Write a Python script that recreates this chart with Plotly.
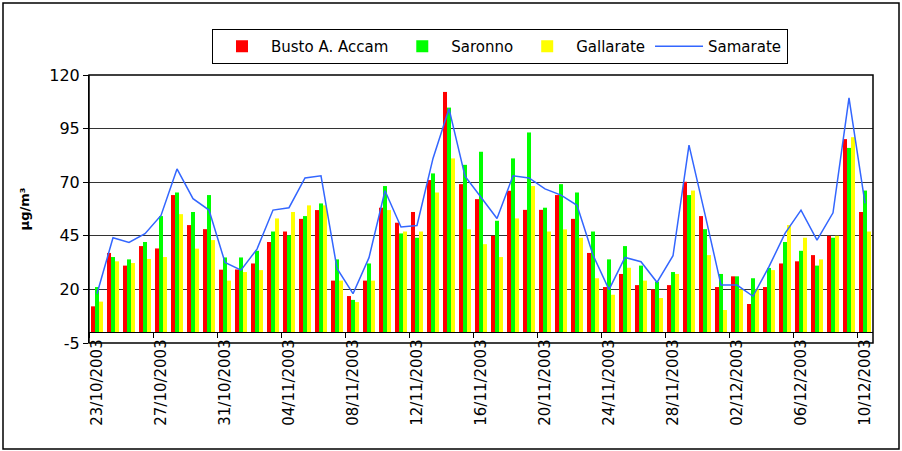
import pandas as pd
import plotly.graph_objects as go

# 23/10/2003 -> 10/12/2003, una categoria al giorno
giorni = [d.strftime("%d/%m/%Y") for d in pd.date_range("2003-10-23", "2003-12-10")]

busto = [12.1, 37.0, 31.1, 40.2, 39.1, 64.0, 50.0, 48.1, 29.2, 29.3,
         32.1, 42.1, 47.0, 52.9, 57.0, 24.1, 16.9, 24.1, 58.1, 51.1,
         56.1, 71.0, 112.1, 69.1, 62.1, 45.0, 66.0, 57.1, 57.1, 64.0,
         52.9, 37.0, 21.1, 27.2, 22.0, 20.0, 22.0, 70.2, 54.2, 21.1,
         26.1, 13.2, 21.1, 32.1, 33.1, 36.0, 45.0, 90.1, 56.1]
saronno = [21.1, 35.1, 34.0, 42.1, 54.2, 65.2, 56.1, 64.0, 34.9, 34.9,
           38.0, 47.0, 45.2, 54.2, 60.1, 34.0, 15.1, 32.1, 68.2, 46.1,
           44.1, 74.1, 104.8, 78.1, 84.2, 52.0, 81.1, 93.2, 58.1, 69.1,
           65.2, 47.0, 34.0, 40.2, 31.1, 23.6, 28.1, 64.0, 48.1, 27.2,
           26.1, 25.2, 30.0, 42.1, 38.0, 31.1, 44.1, 86.0, 66.1]
gallarate = [14.3, 33.1, 32.3, 34.2, 35.1, 55.1, 39.0, 43.0, 24.1, 28.1,
             29.0, 53.1, 56.1, 59.2, 59.2, 24.1, 14.1, 24.1, 57.0, 47.0,
             47.0, 65.2, 81.1, 48.0, 41.1, 35.1, 53.1, 68.2, 47.0, 48.0,
             44.1, 25.2, 17.5, 30.1, 24.1, 16.0, 27.2, 66.1, 36.0, 10.4,
             20.0, 20.0, 29.0, 50.0, 44.1, 34.0, 45.0, 91.0, 47.0]
samarate = [18.0, 44.1, 41.9, 46.0, 54.5, 76.2, 62.3, 57.0, 32.6, 29.0,
            38.8, 57.0, 58.1, 72.0, 73.0, 29.8, 18.0, 34.8, 66.0, 49.1,
            49.8, 81.1, 104.3, 72.8, 63.0, 53.1, 73.0, 72.0, 66.9, 64.0,
            59.2, 36.0, 19.9, 34.9, 32.9, 23.3, 35.7, 87.3, 55.0, 22.0,
            22.0, 16.8, 30.6, 46.1, 57.0, 43.0, 55.7, 109.3, 60.1]

y_ticks = [-5, 20, 45, 70, 95, 120]
y_ticktext = ["-5", "20", "45", "70", "95", "120"]

FONT = "DejaVu Sans, Arial, sans-serif"
W, H = 902, 451
L, R, T, B = 89, 29, 75, 108
PW, PH = W - L - R, H - T - B


def px_x(px):
    return (px - L) / PW


def px_y(py):
    return (H - B - py) / PH


fig = go.Figure()
for nome, valori, colore in [("Busto A. Accam", busto, "#FF0000"),
                             ("Saronno", saronno, "#00FF00"),
                             ("Gallarate", gallarate, "#FFFF00")]:
    fig.add_trace(go.Bar(x=giorni, y=valori, name=nome,
                         marker=dict(color=colore, line=dict(width=0))))
fig.add_trace(go.Scatter(x=giorni, y=samarate, name="Samarate", mode="lines",
                         line=dict(color="#3366FF", width=1.5)))

# riquadro area grafico e cornice esterna
fig.add_shape(type="rect", xref="paper", yref="paper", x0=0, y0=0, x1=1, y1=1,
              line=dict(color="black", width=1.5))
fig.add_shape(type="rect", xref="paper", yref="paper",
              x0=px_x(3), x1=px_x(899), y0=px_y(449), y1=px_y(3),
              line=dict(color="black", width=1.5))

fig.update_layout(
    width=W, height=H,
    margin=dict(l=L, r=R, t=T, b=B),
    paper_bgcolor="white", plot_bgcolor="white",
    font=dict(family=FONT, size=16, color="black"),
    barmode="group", bargap=0.25, bargroupgap=0,
    showlegend=True,
    legend=dict(orientation="h", x=px_x(212), xanchor="left",
                y=px_y(29), yanchor="top",
                bordercolor="black", borderwidth=1, bgcolor="white",
                font=dict(size=15), traceorder="normal",
                itemwidth=48),
)
fig.update_yaxes(
    range=[-5, 120], tickmode="array", tickvals=y_ticks, ticktext=y_ticktext,
    automargin=False,
    showgrid=True, gridcolor="#333333", gridwidth=1,
    zeroline=False, showline=True, linecolor="black",
    ticks="outside", ticklen=5, tickcolor="black",
    tickfont=dict(size=16),
    title=dict(text="<b>µg/m³</b>", font=dict(size=13), standoff=16),
)
fig.update_xaxes(
    type="category", anchor="free", position=5 / 125, automargin=False,
    showline=True, linecolor="black", linewidth=1,
    tickmode="linear", tick0=0, dtick=4, tickson="boundaries",
    ticks="outside", ticklen=5, tickcolor="black",
    tickangle=-90, showgrid=False, tickfont=dict(size=15),
    range=[-0.5, len(giorni) - 0.5],
)

fig.write_html("out.html", config={"displayModeBar": False},
               post_script="document.body.style.margin = '0';")
